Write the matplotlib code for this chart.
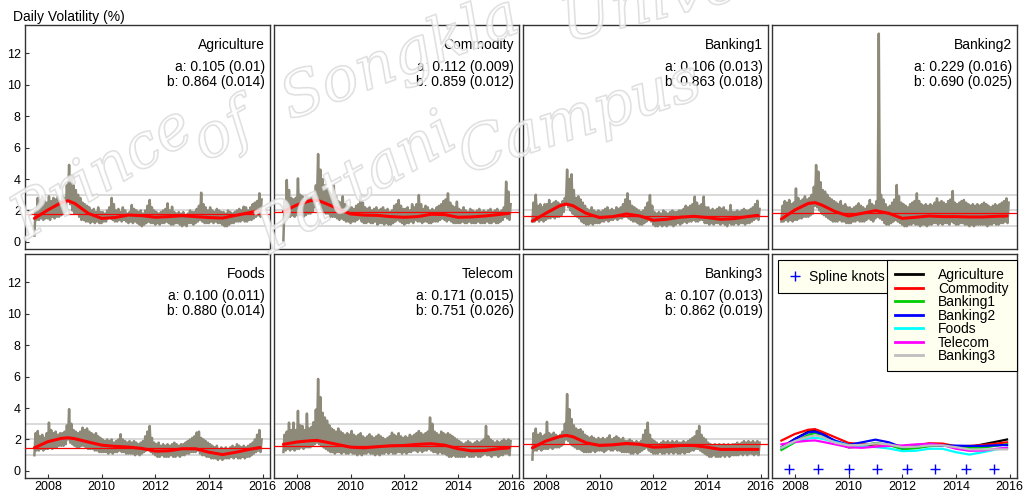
import numpy as np
import matplotlib
matplotlib.use("Agg")
import matplotlib.pyplot as plt
import matplotlib.patheffects as pe
from matplotlib.lines import Line2D

plt.rcParams["font.family"] = ["Liberation Sans", "DejaVu Sans"]

# monthly sampling of daily volatility, Jul 2007 .. Dec 2015
months = 2007.5 + np.arange(102) / 12

# monthly high / low of the daily volatility (%)
agri_hi = [2.0, 2.8, 2.7, 2.9, 2.6, 2.5,
           2.9, 2.6, 2.8, 2.7, 2.9, 2.6, 2.9, 2.8, 3.6, 4.9, 4.2, 3.6,
           3.3, 3.0, 2.8, 2.5, 2.4, 2.3, 2.2, 2.0, 2.1, 1.9, 2.2, 1.9,
           1.9, 1.8, 2.0, 2.2, 2.8, 2.4, 2.0, 2.1, 1.9, 2.2, 2.0, 1.8,
           1.9, 2.35, 2.1, 2.0, 1.9, 2.0, 1.8, 2.0, 2.3, 2.67, 2.2, 2.0,
           1.9, 1.8, 1.9, 2.0, 2.1, 2.45, 2.0, 2.24, 1.9, 1.8, 1.9, 1.8,
           1.9, 1.7, 1.8, 2.0, 1.9, 1.9, 2.1, 2.3, 3.13, 2.4, 2.2, 2.0,
           2.2, 2.0, 1.9, 2.1, 2.0, 1.9, 1.9, 1.8, 2.0, 1.9, 1.8, 1.9,
           2.0, 2.1, 2.0, 2.24, 2.2, 2.0, 2.2, 2.4, 2.5, 2.6, 3.09, 2.7]
agri_lo = [0.4, 1.4, 1.4, 1.5, 1.4, 1.5,
           1.5, 1.4, 1.6, 1.5, 1.6, 1.6, 1.7, 1.8, 1.9, 2.6, 2.4, 2.0,
           1.8, 1.8, 1.6, 1.4, 1.4, 1.3, 1.3, 1.2, 1.3, 1.2, 1.3, 1.2,
           1.2, 1.3, 1.3, 1.5, 1.5, 1.4, 1.3, 1.3, 1.4, 1.3, 1.4, 1.3,
           1.2, 1.3, 1.2, 1.3, 1.2, 1.1, 1.0, 1.1, 1.2, 1.3, 1.2, 1.2,
           1.1, 1.2, 1.1, 1.2, 1.2, 1.3, 1.2, 1.1, 1.1, 1.2, 1.2, 1.1,
           1.0, 1.1, 1.0, 1.2, 1.2, 1.1, 1.2, 1.3, 1.4, 1.3, 1.2, 1.2,
           1.2, 1.3, 1.2, 1.3, 1.2, 1.2, 1.1, 1.0, 1.0, 1.1, 1.2, 1.2,
           1.3, 1.3, 1.3, 1.4, 1.3, 1.3, 1.4, 1.4, 1.5, 1.6, 1.7, 1.6]

comm_hi = [2.6, 3.94, 3.3, 2.8, 2.7, 2.8,
           4.04, 3.0, 2.9, 2.7, 2.9, 2.7, 2.8, 3.0, 3.6, 5.59, 4.6, 4.0,
           3.6, 3.4, 3.2, 3.0, 3.6, 2.9, 2.6, 2.5, 2.9, 2.4, 2.3, 2.2,
           2.2, 2.1, 2.3, 2.4, 2.98, 2.5, 2.2, 2.1, 2.2, 2.0, 2.1, 2.2,
           2.0, 2.1, 2.2, 2.0, 2.1, 1.9, 2.0, 2.3, 2.4, 2.67, 2.3, 2.1,
           2.1, 2.2, 2.0, 2.4, 2.2, 2.4, 2.98, 2.4, 2.1, 2.3, 2.2, 2.0,
           2.1, 2.0, 2.2, 2.3, 2.4, 2.6, 2.7, 3.09, 2.5, 2.3, 2.2, 2.56,
           2.1, 2.0, 2.2, 2.0, 1.9, 2.1, 2.0, 1.9, 2.0, 2.1, 1.9, 2.0,
           1.9, 2.0, 2.1, 1.9, 2.0, 2.1, 1.9, 2.0, 2.2, 3.83, 3.2, 2.4]
comm_lo = [0.1, 1.5, 1.6, 1.6, 1.7, 1.6,
           1.7, 1.7, 1.7, 1.6, 1.7, 1.8, 1.8, 1.9, 2.2, 2.6, 2.4, 2.1,
           1.9, 1.8, 1.8, 1.6, 1.6, 1.6, 1.5, 1.4, 1.5, 1.4, 1.3, 1.3,
           1.2, 1.3, 1.3, 1.4, 1.5, 1.3, 1.2, 1.2, 1.3, 1.2, 1.2, 1.3,
           1.1, 1.2, 1.2, 1.1, 1.2, 1.1, 1.1, 1.2, 1.3, 1.4, 1.3, 1.2,
           1.1, 1.2, 1.2, 1.3, 1.2, 1.4, 1.3, 1.3, 1.2, 1.3, 1.3, 1.2,
           1.2, 1.3, 1.3, 1.3, 1.4, 1.5, 1.4, 1.3, 1.4, 1.3, 1.2, 1.2,
           1.2, 1.2, 1.3, 1.2, 1.2, 1.3, 1.2, 1.2, 1.2, 1.3, 1.2, 1.2,
           1.2, 1.3, 1.2, 1.2, 1.3, 1.2, 1.2, 1.3, 1.4, 1.6, 1.5, 1.4]

bank1_hi = [2.5, 3.0, 2.3, 2.4, 2.2, 2.4,
            2.4, 2.67, 2.4, 2.5, 2.6, 2.5, 2.4, 2.6, 2.8, 4.6, 4.0, 4.3,
            3.3, 2.8, 2.9, 2.7, 2.5, 2.3, 2.1, 2.0, 2.2, 2.0, 1.9, 2.0,
            1.9, 2.0, 2.1, 2.2, 2.0, 2.1, 2.0, 2.2, 2.1, 2.2, 2.4, 2.7,
            3.09, 2.6, 2.3, 2.2, 2.1, 2.0, 1.9, 2.0, 2.2, 2.5, 2.98, 2.3,
            1.9, 1.8, 1.9, 1.8, 2.0, 1.9, 1.8, 1.9, 2.0, 1.9, 1.9, 2.0,
            2.0, 2.1, 2.3, 2.2, 2.3, 2.4, 2.88, 2.5, 2.3, 2.4, 2.88, 2.2,
            2.2, 2.0, 2.1, 2.0, 2.1, 2.2, 2.1, 2.2, 2.0, 1.9, 2.35, 1.9,
            1.9, 2.0, 1.9, 2.0, 2.1, 2.0, 2.0, 2.1, 2.2, 2.4, 2.62, 2.1]
bank1_lo = [1.3, 1.3, 1.4, 1.3, 1.4, 1.3,
            1.4, 1.5, 1.5, 1.6, 1.5, 1.6, 1.6, 1.7, 1.9, 2.4, 2.2, 2.0,
            1.8, 1.7, 1.6, 1.5, 1.3, 1.2, 1.1, 1.1, 1.2, 1.1, 1.2, 1.2,
            1.2, 1.3, 1.3, 1.4, 1.3, 1.4, 1.4, 1.5, 1.4, 1.5, 1.5, 1.6,
            1.6, 1.5, 1.4, 1.3, 1.3, 1.2, 1.1, 1.1, 1.2, 1.3, 1.4, 1.3,
            1.1, 1.0, 1.0, 1.1, 1.0, 1.1, 1.0, 1.1, 1.1, 1.0, 1.1, 1.2,
            1.1, 1.2, 1.3, 1.2, 1.3, 1.3, 1.4, 1.3, 1.3, 1.4, 1.4, 1.2,
            1.2, 1.1, 1.2, 1.1, 1.2, 1.2, 1.1, 1.2, 1.1, 1.0, 1.2, 1.1,
            1.1, 1.2, 1.1, 1.2, 1.2, 1.1, 1.2, 1.2, 1.3, 1.4, 1.5, 1.4]

bank2_hi = [2.3, 2.6, 2.5, 2.67, 2.4, 2.5,
            3.4, 2.8, 2.6, 2.7, 2.9, 2.7, 2.8, 3.0, 3.5, 4.89, 4.47, 3.8,
            3.3, 3.2, 3.0, 2.8, 2.7, 2.6, 2.5, 2.4, 2.6, 2.3, 2.4, 2.2,
            2.2, 2.1, 2.2, 2.3, 2.45, 2.3, 2.2, 2.1, 2.3, 2.67, 2.4, 2.3,
            2.6, 13.25, 3.0, 2.7, 2.4, 2.2, 2.3, 2.5, 2.7, 3.62, 2.9, 2.5,
            2.4, 2.3, 2.2, 2.4, 2.5, 2.6, 3.09, 2.6, 2.4, 2.3, 2.4, 2.3,
            2.4, 2.3, 2.5, 2.77, 2.5, 2.6, 2.5, 2.4, 2.6, 2.7, 3.24, 2.5,
            2.4, 2.5, 2.6, 2.67, 2.5, 2.4, 2.3, 2.4, 2.3, 2.4, 2.3, 2.4,
            2.5, 2.4, 2.3, 2.2, 2.3, 2.4, 2.3, 2.4, 2.5, 2.6, 2.77, 2.5]
bank2_lo = [1.3, 1.3, 1.4, 1.3, 1.4, 1.3,
            1.4, 1.4, 1.5, 1.5, 1.6, 1.6, 1.6, 1.7, 1.8, 2.3, 2.2, 2.0,
            1.8, 1.7, 1.6, 1.5, 1.4, 1.3, 1.3, 1.3, 1.4, 1.3, 1.3, 1.2,
            1.2, 1.2, 1.3, 1.3, 1.4, 1.3, 1.3, 1.3, 1.4, 1.5, 1.4, 1.3,
            1.5, 1.6, 1.5, 1.4, 1.2, 1.1, 1.1, 1.2, 1.3, 1.4, 1.3, 1.2,
            1.1, 1.0, 1.0, 1.1, 1.1, 1.2, 1.1, 1.1, 1.0, 1.1, 1.1, 1.0,
            1.1, 1.1, 1.2, 1.2, 1.1, 1.2, 1.1, 1.2, 1.2, 1.1, 1.3, 1.2,
            1.1, 1.1, 1.2, 1.2, 1.1, 1.1, 1.0, 1.1, 1.0, 1.1, 1.1, 1.1,
            1.1, 1.1, 1.0, 1.1, 1.1, 1.2, 1.1, 1.1, 1.2, 1.2, 1.3, 1.2]

foods_hi = [2.4, 2.54, 2.2, 2.3, 2.1, 2.4,
            3.07, 2.6, 2.4, 2.5, 2.3, 2.4, 2.4, 2.5, 2.9, 3.93, 3.0, 2.6,
            2.5, 2.4, 2.5, 2.75, 2.6, 2.7, 2.5, 2.4, 2.3, 2.4, 2.2, 2.1,
            2.0, 1.9, 2.0, 1.9, 2.0, 1.8, 1.9, 2.0, 2.33, 2.0, 1.9, 1.8,
            1.9, 1.8, 1.9, 1.8, 1.7, 1.8, 1.9, 2.2, 2.5, 2.86, 2.1, 1.8,
            1.7, 1.8, 1.6, 1.7, 1.6, 1.7, 1.6, 1.7, 1.8, 1.7, 1.6, 1.7,
            1.7, 1.8, 1.9, 2.0, 2.1, 2.2, 2.44, 2.5, 2.1, 2.0, 1.9, 1.8,
            1.7, 1.6, 1.5, 1.6, 1.4, 1.5, 1.4, 1.5, 1.4, 1.5, 1.6, 1.5,
            1.7, 1.6, 1.5, 1.6, 1.5, 1.6, 1.7, 1.8, 2.0, 2.3, 2.6, 2.0]
foods_lo = [1.0, 1.3, 1.3, 1.4, 1.3, 1.4,
            1.4, 1.5, 1.4, 1.5, 1.5, 1.6, 1.6, 1.6, 1.7, 2.0, 1.8, 1.7,
            1.6, 1.5, 1.5, 1.6, 1.6, 1.5, 1.4, 1.4, 1.4, 1.3, 1.3, 1.2,
            1.2, 1.2, 1.2, 1.1, 1.2, 1.1, 1.2, 1.2, 1.3, 1.2, 1.2, 1.1,
            1.1, 1.1, 1.1, 1.0, 1.1, 1.0, 1.1, 1.2, 1.3, 1.4, 1.2, 1.1,
            1.0, 0.9, 0.9, 1.0, 0.9, 0.9, 0.9, 1.0, 0.9, 0.9, 1.0, 0.9,
            1.0, 1.0, 1.1, 1.1, 1.2, 1.2, 1.2, 1.3, 1.1, 1.0, 1.0, 0.9,
            0.9, 0.8, 0.8, 0.8, 0.7, 0.8, 0.7, 0.8, 0.8, 0.8, 0.9, 0.8,
            0.9, 0.8, 0.8, 0.9, 0.8, 0.9, 0.9, 1.0, 1.1, 1.2, 1.3, 1.2]

tele_hi = [2.3, 2.5, 3.07, 2.6, 3.07, 2.6,
           3.82, 2.9, 2.86, 2.6, 3.65, 2.7, 2.8, 3.1, 3.9, 5.85, 4.7, 3.7,
           3.4, 3.2, 2.9, 2.7, 2.6, 2.5, 2.7, 2.5, 2.4, 2.3, 2.4, 2.3,
           2.54, 2.3, 2.2, 2.3, 2.4, 2.2, 2.1, 2.2, 2.33, 2.2, 2.1, 2.2,
           2.3, 2.2, 2.1, 2.0, 2.1, 2.2, 2.43, 2.3, 2.2, 2.4, 2.2, 2.1,
           2.2, 2.1, 2.3, 2.2, 2.3, 2.4, 2.54, 2.4, 2.3, 2.4, 2.5, 3.4,
           3.0, 2.5, 2.4, 2.3, 2.5, 2.4, 2.3, 2.4, 2.3, 2.2, 2.1, 2.0,
           1.9, 1.8, 1.7, 1.8, 1.9, 1.8, 1.7, 1.8, 1.9, 1.8, 1.9, 2.0,
           2.86, 2.2, 2.0, 1.9, 1.8, 1.9, 1.8, 1.9, 2.0, 1.9, 2.0, 1.9]
tele_lo = [1.2, 1.3, 1.4, 1.3, 1.4, 1.3,
           1.4, 1.4, 1.5, 1.4, 1.5, 1.5, 1.5, 1.6, 1.7, 1.8, 1.7, 1.6,
           1.5, 1.4, 1.3, 1.2, 1.2, 1.1, 1.2, 1.2, 1.1, 1.2, 1.1, 1.1,
           1.2, 1.1, 1.1, 1.0, 1.1, 1.0, 1.1, 1.1, 1.2, 1.1, 1.1, 1.0,
           1.1, 1.0, 1.1, 1.1, 1.2, 1.1, 1.2, 1.1, 1.1, 1.2, 1.2, 1.1,
           1.2, 1.1, 1.2, 1.2, 1.3, 1.3, 1.2, 1.3, 1.2, 1.3, 1.3, 1.4,
           1.3, 1.2, 1.2, 1.1, 1.2, 1.1, 1.1, 1.0, 0.9, 0.9, 1.0, 0.9,
           0.9, 0.9, 0.9, 0.9, 1.0, 0.9, 0.9, 0.9, 1.0, 0.9, 0.9, 1.0,
           1.1, 1.0, 1.0, 0.9, 1.0, 1.0, 0.9, 1.0, 1.0, 1.1, 1.1, 1.0]

bank3_hi = [2.4, 2.69, 2.3, 2.4, 2.2, 2.3,
            3.12, 2.4, 2.3, 2.43, 2.3, 2.2, 2.3, 2.5, 3.0, 4.89, 3.93, 3.3,
            2.9, 2.7, 2.6, 2.65, 2.5, 2.3, 2.2, 2.1, 2.2, 2.1, 2.0, 2.1,
            2.0, 2.1, 2.0, 2.1, 2.26, 2.0, 2.1, 2.2, 2.1, 2.0, 2.1, 1.9,
            1.9, 2.0, 1.9, 1.8, 1.9, 1.8, 1.9, 2.3, 2.6, 3.07, 2.3, 2.0,
            1.9, 1.8, 1.7, 1.8, 1.9, 1.8, 1.9, 1.8, 1.9, 1.8, 1.9, 1.8,
            1.8, 1.9, 1.8, 1.9, 2.0, 2.1, 2.2, 2.54, 2.86, 2.3, 2.1, 2.0,
            1.8, 1.7, 1.6, 1.7, 1.6, 1.7, 1.6, 1.7, 1.6, 1.7, 1.6, 1.7,
            1.7, 1.8, 1.7, 1.8, 1.9, 1.8, 1.9, 1.8, 1.9, 1.8, 1.9, 1.8]
bank3_lo = [0.72, 1.3, 1.3, 1.4, 1.3, 1.4,
            1.4, 1.4, 1.5, 1.4, 1.5, 1.5, 1.5, 1.6, 1.7, 2.0, 1.9, 1.7,
            1.6, 1.5, 1.4, 1.4, 1.3, 1.2, 1.2, 1.2, 1.2, 1.3, 1.2, 1.3,
            1.3, 1.3, 1.2, 1.3, 1.4, 1.3, 1.3, 1.4, 1.3, 1.3, 1.2, 1.2,
            1.2, 1.2, 1.1, 1.1, 1.2, 1.1, 1.2, 1.3, 1.4, 1.5, 1.3, 1.2,
            1.1, 1.1, 1.1, 1.2, 1.1, 1.1, 1.2, 1.1, 1.2, 1.1, 1.2, 1.1,
            1.1, 1.2, 1.1, 1.2, 1.2, 1.3, 1.3, 1.4, 1.4, 1.3, 1.2, 1.1,
            1.0, 0.9, 0.9, 1.0, 0.9, 0.9, 0.9, 1.0, 0.9, 1.0, 0.9, 1.0,
            1.0, 1.0, 1.0, 1.1, 1.0, 1.1, 1.0, 1.1, 1.1, 1.0, 1.1, 1.0]

# fitted spline of the long-run volatility component
spline_t = [2007.5, 2008.0, 2008.5, 2008.75, 2009.0, 2009.5, 2010.0, 2010.5,
            2011.0, 2011.5, 2012.0, 2012.5, 2013.0, 2013.5, 2014.0, 2014.5,
            2015.0, 2015.5, 2015.9]
agri_sp = [1.50, 2.03, 2.50, 2.62, 2.45, 1.82, 1.50, 1.55, 1.71, 1.67,
           1.57, 1.61, 1.67, 1.61, 1.55, 1.52, 1.69, 1.86, 2.00]
comm_sp = [1.93, 2.35, 2.62, 2.66, 2.50, 2.14, 1.78, 1.71, 1.69, 1.61,
           1.57, 1.61, 1.76, 1.74, 1.57, 1.59, 1.65, 1.74, 1.82]
bank1_sp = [1.33, 1.82, 2.29, 2.41, 2.31, 1.82, 1.55, 1.61, 1.78, 1.65,
            1.38, 1.44, 1.57, 1.63, 1.55, 1.44, 1.48, 1.61, 1.69]
bank2_sp = [1.46, 2.03, 2.45, 2.50, 2.35, 1.93, 1.65, 1.82, 1.99, 1.82,
            1.50, 1.57, 1.65, 1.61, 1.61, 1.59, 1.59, 1.63, 1.65]
foods_sp = [1.47, 1.86, 2.07, 2.11, 2.05, 1.84, 1.64, 1.56, 1.52, 1.43,
            1.26, 1.28, 1.41, 1.41, 1.19, 1.04, 1.19, 1.37, 1.49]
tele_sp = [1.69, 1.84, 1.92, 1.94, 1.86, 1.69, 1.51, 1.47, 1.54, 1.60,
           1.62, 1.69, 1.73, 1.64, 1.41, 1.28, 1.30, 1.41, 1.47]
bank3_sp = [1.47, 1.90, 2.18, 2.26, 2.18, 1.79, 1.62, 1.66, 1.75, 1.69,
            1.51, 1.54, 1.62, 1.62, 1.51, 1.37, 1.37, 1.37, 1.37]

knots_t = [2007.78, 2008.87, 2010.0, 2011.07, 2012.17, 2013.2, 2014.36, 2015.4]
knots_y = 0.1

sectors = ["Agriculture", "Commodity", "Banking1", "Banking2",
           "Foods", "Telecom", "Banking3"]
highs = [agri_hi, comm_hi, bank1_hi, bank2_hi, foods_hi, tele_hi, bank3_hi]
lows = [agri_lo, comm_lo, bank1_lo, bank2_lo, foods_lo, tele_lo, bank3_lo]
splines = [agri_sp, comm_sp, bank1_sp, bank2_sp, foods_sp, tele_sp, bank3_sp]
means = [1.78, 1.88, 1.65, 1.82, 1.47, 1.58, 1.69]
a_est = ["0.105 (0.01)", "0.112 (0.009)", "0.106 (0.013)", "0.229 (0.016)",
         "0.100 (0.011)", "0.171 (0.015)", "0.107 (0.013)"]
b_est = ["0.864 (0.014)", "0.859 (0.012)", "0.863 (0.018)", "0.690 (0.025)",
         "0.880 (0.014)", "0.751 (0.026)", "0.862 (0.019)"]
line_colors = ["black", "red", "#00cd00", "blue", "cyan", "magenta", "#bebebe"]

W, H = 1030, 496
col_left = [25, 274, 523, 772]
row_top = [25, 254]
pw, ph = 245, 224

fig = plt.figure(figsize=(W / 100, H / 100), dpi=100)


def make_axes(col, row):
    ax = fig.add_axes([col_left[col] / W, 1 - (row_top[row] + ph) / H, pw / W, ph / H])
    ax.set_xlim(2007.15, 2016.27)
    ax.set_ylim(-0.45, 13.8)
    ax.set_xticks(range(2008, 2017, 2))
    ax.set_yticks(range(0, 13, 2))
    ax.tick_params(direction="in", length=3, labelsize=9, pad=2, color="#333333")
    ax.tick_params(axis="y", pad=3)
    if col != 0:
        ax.tick_params(axis="y", length=0, labelleft=False)
    if row == 0:
        ax.tick_params(axis="x", length=0, labelbottom=False)
    for s in ax.spines.values():
        s.set_color("#333333")
        s.set_linewidth(1.0)
    return ax


for i, name in enumerate(sectors):
    col, row = i % 4, i // 4
    ax = make_axes(col, row)
    for lvl in (1, 2, 3):
        ax.axhline(lvl, color="#cfcfcf", lw=1.1, zorder=1)
    # zig-zag between monthly low and high gives the dense daily band
    x = np.column_stack([months, months + 1 / 24]).ravel()
    y = np.column_stack([lows[i], highs[i]]).ravel()
    ax.plot(x, y, color="#8e8a7a", lw=1.8, zorder=2)
    ax.axhline(means[i], color="red", lw=0.9, zorder=3)
    ax.plot(spline_t, splines[i], color="red", lw=2.2, zorder=4,
            solid_capstyle="round", solid_joinstyle="round")
    ax.text(0.98, 0.911, name, transform=ax.transAxes, ha="right", va="center", fontsize=10)
    ax.text(0.98, 0.812, "a: " + a_est[i], transform=ax.transAxes, ha="right", va="center", fontsize=10)
    ax.text(0.98, 0.745, "b: " + b_est[i], transform=ax.transAxes, ha="right", va="center", fontsize=10)

# overview panel with all long-run components
ax = make_axes(3, 1)
handles = []
for i, name in enumerate(sectors):
    h, = ax.plot(spline_t, splines[i], color=line_colors[i], lw=1.6, label=name,
                 solid_joinstyle="round")
    handles.append(h)
ax.plot(knots_t, [knots_y] * len(knots_t), "+", color="blue", ms=7, mew=1.0)

knot_handle = Line2D([], [], ls="none", marker="+", color="blue", ms=7, mew=1.0)
leg1 = ax.legend([knot_handle], ["Spline knots"], loc="upper left",
                 bbox_to_anchor=(6 / pw, 1 - 6 / ph), borderaxespad=0,
                 fontsize=10, fancybox=False, framealpha=1, facecolor="#fffff0",
                 edgecolor="black", borderpad=0.7, handlelength=1.0, handletextpad=0.5)
leg1.get_frame().set_linewidth(0.8)
ax.add_artist(leg1)
leg2 = ax.legend(handles=handles, loc="upper right", bbox_to_anchor=(1.0, 1 - 6 / ph),
                 borderaxespad=0, fontsize=10, fancybox=False, framealpha=1,
                 facecolor="#fffff0", edgecolor="black", labelspacing=-0.04,
                 handlelength=2.0, handletextpad=1.1, borderpad=0.6)
leg2.get_frame().set_linewidth(0.8)
for ln in leg2.get_lines():
    ln.set_linewidth(2.0)

fig.text(13 / W, 1 - 16.5 / H, "Daily Volatility (%)", fontsize=10, va="center", ha="left")

# campus stamp, laid word by word along two arcs
stamp = dict(family="DejaVu Serif", style="italic", fontsize=44, color=(1, 1, 1, 0.18),
             rotation_mode="anchor", ha="left", va="baseline", zorder=30)
effects = [pe.Stroke(linewidth=1.2, foreground="#d4d4d4", alpha=0.75), pe.Normal()]
stamp_words = [("Prince", 26, 240, 31), ("of", 205, 162, 28), ("Songkla", 290, 120, 21),
               ("University", 566, 42, 14), ("Pattani", 270, 254, 30), ("Campus", 466, 174, 18)]
for word, px, py, rot in stamp_words:
    t = fig.text(px / W, 1 - py / H, word, rotation=rot, **stamp)
    t.set_path_effects(effects)

fig.savefig("out.png", dpi=100)
